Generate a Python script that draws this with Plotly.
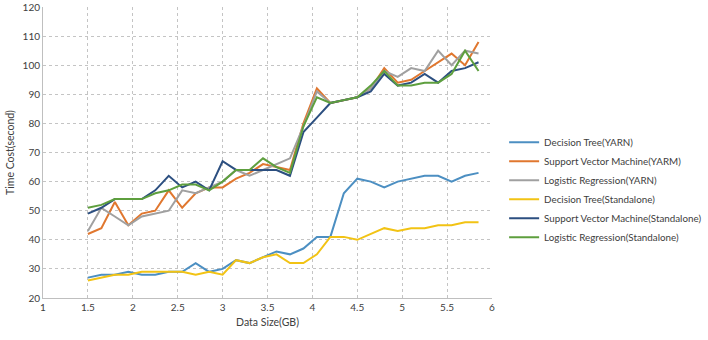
import plotly.graph_objects as go

data_size = [1.5, 1.65, 1.8, 1.95, 2.1, 2.25, 2.4, 2.55, 2.7, 2.85,
             3.0, 3.15, 3.3, 3.45, 3.6, 3.75, 3.9, 4.05, 4.2, 4.35,
             4.5, 4.65, 4.8, 4.95, 5.1, 5.25, 5.4, 5.55, 5.7, 5.85]

dt_yarn = [27, 28, 28, 29, 28, 28, 29, 29, 32, 29, 30, 33, 32, 34, 36,
           35, 37, 41, 41, 56, 61, 60, 58, 60, 61, 62, 62, 60, 62, 63]
svm_yarn = [42, 44, 53, 45, 49, 50, 57, 51, 56, 58, 58, 61, 63, 66, 65,
            64, 80, 92, 87, 88, 89, 92, 99, 94, 95, 98, 101, 104, 100, 108]
lr_yarn = [43, 51, 48, 45, 48, 49, 50, 57, 56, 58, 60, 64, 62, 64, 66,
           68, 79, 91, 87, 88, 89, 92, 98, 96, 99, 98, 105, 100, 105, 104]
dt_sa = [26, 27, 28, 28, 29, 29, 29, 29, 28, 29, 28, 33, 32, 34, 35,
         32, 32, 35, 41, 41, 40, 42, 44, 43, 44, 44, 45, 45, 46, 46]
svm_sa = [49, 51, 54, 54, 54, 57, 62, 58, 60, 57, 67, 64, 64, 64, 64,
          62, 77, 82, 87, 88, 89, 91, 97, 93, 94, 97, 94, 98, 99, 101]
lr_sa = [51, 52, 54, 54, 54, 56, 57, 59, 59, 57, 60, 64, 64, 68, 65,
         63, 79, 89, 87, 88, 89, 93, 98, 93, 93, 94, 94, 97, 105, 98]

series_names = ["Decision Tree(YARN)", "Support Vector Machine(YARM)",
                "Logistic Regression(YARN)", "Decision Tree(Standalone)",
                "Support Vector Machine(Standalone)", "Logistic Regression(Standalone)"]
series_values = [dt_yarn, svm_yarn, lr_yarn, dt_sa, svm_sa, lr_sa]
colors = ["#4C8FC2", "#E0772F", "#A0A0A0", "#F2C314", "#2C4F80", "#5E9F3E"]

x_ticks = [1, 1.5, 2, 2.5, 3, 3.5, 4, 4.5, 5, 5.5, 6]
x_tick_labels = ["1", "1.5", "2", "2.5", "3", "3.5", "4", "4.5", "5", "5.5", "6"]
y_ticks = [20, 30, 40, 50, 60, 70, 80, 90, 100, 110, 120]

FONT = "Lato, 'Open Sans', sans-serif"

fig = go.Figure()
for name, vals, col in zip(series_names, series_values, colors):
    fig.add_trace(go.Scatter(x=data_size, y=vals, mode="lines", name=name,
                             line=dict(color=col, width=2)))

fig.update_layout(
    width=708, height=340,
    margin=dict(l=43, r=216, t=7, b=42, autoexpand=False),
    paper_bgcolor="white", plot_bgcolor="white",
    font=dict(family=FONT, size=10, color="#404040"),
    showlegend=True,
    legend=dict(x=1.027, y=0.585, xanchor="left", yanchor="top",
                font=dict(family=FONT, size=9.8, color="#404040"),
                itemwidth=30, tracegroupgap=0, bgcolor="rgba(0,0,0,0)"),
    xaxis=dict(range=[1, 6], tickvals=x_ticks, ticktext=x_tick_labels,
               showgrid=True, gridcolor="#C4C4C4", griddash="dot", gridwidth=1,
               showline=True, linecolor="#BFBFBF", linewidth=1,
               zeroline=False, ticks="", tickfont=dict(size=10),
               title=dict(text="Data Size(GB)", font=dict(size=10.5), standoff=6)),
    yaxis=dict(range=[20, 120], tickvals=y_ticks,
               showgrid=True, gridcolor="#C4C4C4", griddash="dot", gridwidth=1,
               showline=True, linecolor="#BFBFBF", linewidth=1,
               zeroline=False, ticks="", tickfont=dict(size=10),
               title=dict(text="Time Cost(second)", font=dict(size=10.5), standoff=5)),
)

fig.write_html("out.html", config={"displayModeBar": False},
               post_script="document.body.style.margin='0px';document.body.style.overflow='hidden';")
